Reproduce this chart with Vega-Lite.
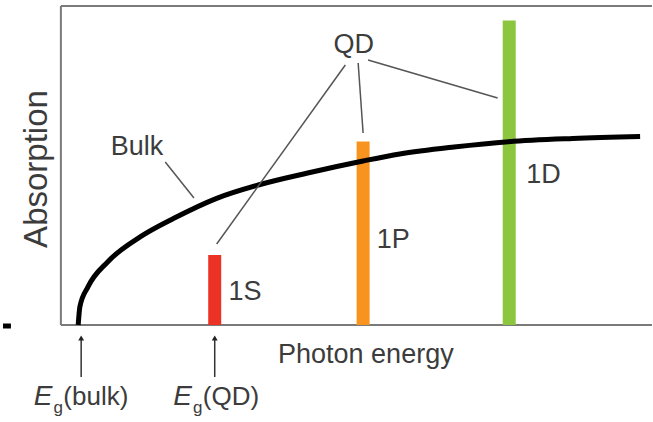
{
  "$schema": "https://vega.github.io/schema/vega-lite/v6.json",
  "width": 653,
  "height": 422,
  "padding": 0,
  "autosize": {"type": "fit", "contains": "padding"},
  "background": "white",
  "config": {"view": {"stroke": null}, "text": {"font": "Liberation Sans"}},
  "datasets": {
    "frame": [
      {"x": -0.175, "x2": -0.175, "a": 0, "a2": 3.19},
      {"x": -0.175, "x2": 5.8, "a": 3.19, "a2": 3.19},
      {"x": -0.175, "x2": 5.8, "a": 0, "a2": 0}
    ],
    "dash": [{"x": -0.76, "x2": -0.68, "a": -0.01, "a2": -0.01}],
    "bars": [
      {"level": "1S", "x": 1.38, "top": 0.7},
      {"level": "1P", "x": 2.88, "top": 1.835},
      {"level": "1D", "x": 4.357, "top": 3.045}
    ],
    "curve": [
      {"x": 0.0, "a": 0.0},
      {"x": 0.017, "a": 0.183},
      {"x": 0.1, "a": 0.383},
      {"x": 0.3, "a": 0.633},
      {"x": 0.63, "a": 0.883},
      {"x": 0.967, "a": 1.067},
      {"x": 1.4, "a": 1.267},
      {"x": 1.82, "a": 1.4},
      {"x": 2.32, "a": 1.52},
      {"x": 2.88, "a": 1.64},
      {"x": 3.25, "a": 1.71},
      {"x": 3.8, "a": 1.78},
      {"x": 4.35, "a": 1.833},
      {"x": 5.0, "a": 1.865},
      {"x": 5.68, "a": 1.885}
    ],
    "connectors": [
      {"x": 0.88, "a": 1.63, "x2": 1.17, "a2": 1.27},
      {"x": 2.7, "a": 2.6, "x2": 1.4, "a2": 0.81},
      {"x": 2.83, "a": 2.62, "x2": 2.88, "a2": 1.92},
      {"x": 2.93, "a": 2.65, "x2": 4.24, "a2": 2.27}
    ],
    "arrows": [
      {"x": 0.03, "a": -0.13, "a2": -0.52},
      {"x": 1.38, "a": -0.13, "a2": -0.52}
    ],
    "labels": [
      {"text": "Bulk", "x": 0.33, "a": 1.7},
      {"text": "QD", "x": 2.58, "a": 2.72},
      {"text": "1S", "x": 1.52, "a": 0.25},
      {"text": "1P", "x": 3.017, "a": 0.77},
      {"text": "1D", "x": 4.53, "a": 1.42},
      {"text": "Photon energy", "x": 2.02, "a": -0.377}
    ],
    "paren": [
      {"text": "(bulk)", "x": -0.15, "a": -0.8},
      {"text": "(QD)", "x": 1.26, "a": -0.8}
    ],
    "eitalic": [
      {"text": "E", "x": -0.45, "a": -0.8},
      {"text": "E", "x": 0.96, "a": -0.8}
    ],
    "sub": [
      {"text": "g", "x": -0.25, "a": -0.88},
      {"text": "g", "x": 1.16, "a": -0.88}
    ],
    "ylabel": [{"text": "Absorption", "x": -0.32, "a": 1.56}]
  },
  "encoding": {
    "x": {"field": "x", "type": "quantitative", "scale": {"domain": [-0.75, 5.78], "nice": false, "zero": false}, "axis": null},
    "y": {"field": "a", "type": "quantitative", "scale": {"domain": [-0.97, 3.25], "nice": false, "zero": false}, "axis": null}
  },
  "layer": [
    {
      "data": {"name": "frame"},
      "mark": {"type": "rule", "color": "#7a7a7a", "strokeWidth": 2},
      "encoding": {"x2": {"field": "x2"}, "y2": {"field": "a2"}}
    },
    {
      "data": {"name": "dash"},
      "mark": {"type": "rule", "color": "#000000", "strokeWidth": 5},
      "encoding": {"x2": {"field": "x2"}, "y2": {"field": "a2"}}
    },
    {
      "data": {"name": "bars"},
      "mark": {"type": "rule", "strokeWidth": 13, "strokeCap": "butt"},
      "encoding": {
        "y": {"field": "top", "type": "quantitative"},
        "y2": {"datum": 0},
        "color": {"field": "level", "type": "nominal", "scale": {"domain": ["1S", "1P", "1D"], "range": ["#ec3224", "#f7931e", "#8cc63f"]}, "legend": null}
      }
    },
    {
      "data": {"name": "curve"},
      "mark": {"type": "line", "color": "#000000", "strokeWidth": 5, "interpolate": "monotone", "strokeCap": "butt"},
      "encoding": {}
    },
    {
      "data": {"name": "connectors"},
      "mark": {"type": "rule", "color": "#555555", "strokeWidth": 1.5},
      "encoding": {"x2": {"field": "x2"}, "y2": {"field": "a2"}}
    },
    {
      "data": {"name": "arrows"},
      "mark": {"type": "rule", "color": "#333333", "strokeWidth": 1.5},
      "encoding": {"y2": {"field": "a2"}}
    },
    {
      "data": {"name": "arrows"},
      "mark": {"type": "point", "shape": "triangle-up", "filled": true, "color": "#222222", "size": 35, "opacity": 1},
      "encoding": {}
    },
    {
      "data": {"name": "labels"},
      "mark": {"type": "text", "align": "left", "baseline": "alphabetic", "fontSize": 27, "color": "#3c3c3c"},
      "encoding": {"text": {"field": "text"}}
    },
    {
      "data": {"name": "paren"},
      "mark": {"type": "text", "align": "left", "baseline": "alphabetic", "fontSize": 26, "color": "#3c3c3c"},
      "encoding": {"text": {"field": "text"}}
    },
    {
      "data": {"name": "eitalic"},
      "mark": {"type": "text", "align": "left", "baseline": "alphabetic", "fontSize": 28, "fontStyle": "italic", "color": "#3c3c3c"},
      "encoding": {"text": {"field": "text"}}
    },
    {
      "data": {"name": "sub"},
      "mark": {"type": "text", "align": "left", "baseline": "alphabetic", "fontSize": 17, "color": "#3c3c3c"},
      "encoding": {"text": {"field": "text"}}
    },
    {
      "data": {"name": "ylabel"},
      "mark": {"type": "text", "align": "center", "baseline": "alphabetic", "angle": 270, "fontSize": 33, "color": "#3c3c3c"},
      "encoding": {"text": {"field": "text"}}
    }
  ]
}
